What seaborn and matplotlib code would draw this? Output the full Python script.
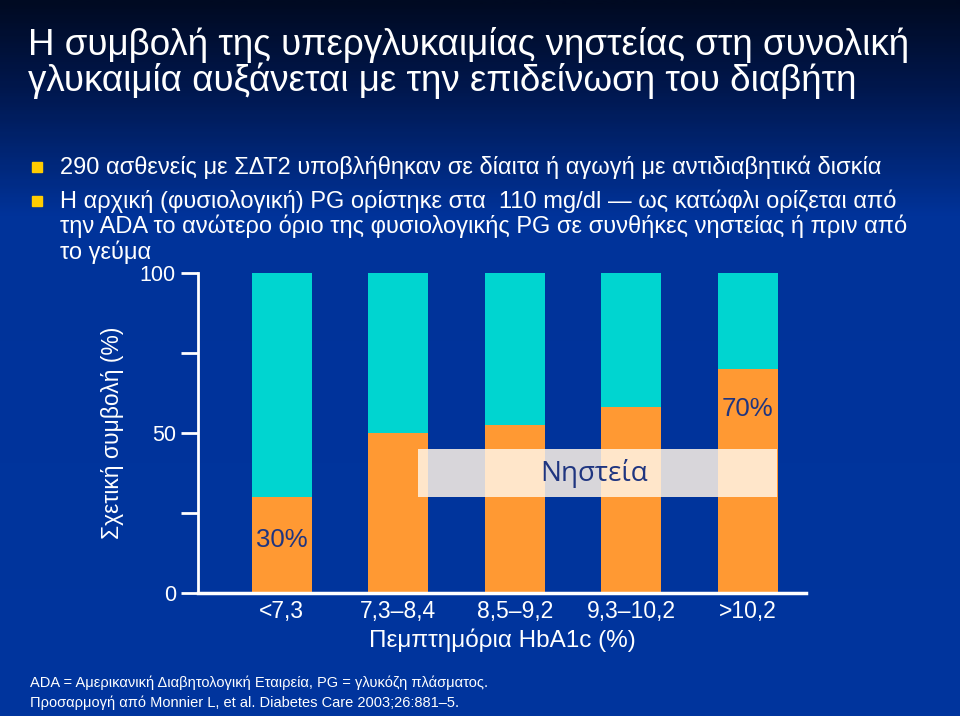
import numpy as np
import pandas as pd
import matplotlib
matplotlib.use("Agg")
import matplotlib.pyplot as plt
import seaborn as sns
from matplotlib.colors import LinearSegmentedColormap

# data
quintiles = ["<7,3", "7,3–8,4", "8,5–9,2", "9,3–10,2", ">10,2"]
fasting = [30, 50, 52.5, 58, 70]
total = [100, 100, 100, 100, 100]
yticks = [0, 25, 50, 75, 100]
ytick_labels = ["0", "", "50", "", "100"]

title_lines = ["Η συμβολή της υπεργλυκαιμίας νηστείας στη συνολική",
               "γλυκαιμία αυξάνεται με την επιδείνωση του διαβήτη"]
bullet_lines = [
    ["290 ασθενείς με ΣΔΤ2 υποβλήθηκαν σε δίαιτα ή αγωγή με αντιδιαβητικά δισκία"],
    ["Η αρχική (φυσιολογική) PG ορίστηκε στα  110 mg/dl — ως κατώφλι ορίζεται από",
     "την ADA το ανώτερο όριο της φυσιολογικής PG σε συνθήκες νηστείας ή πριν από",
     "το γεύμα"],
]
footnotes = [
    "ADA = Αμερικανική Διαβητολογική Εταιρεία, PG = γλυκόζη πλάσματος.",
    "Προσαρμογή από Monnier L, et al. Diabetes Care 2003;26:881–5.",
]

ORANGE = "#FF9933"
CYAN = "#00D5D0"
TEXTBLUE = "#1f3580"

sns.set_theme(style="white")
plt.rcParams["font.family"] = ["Liberation Sans", "DejaVu Sans"]

W, H = 960, 716
fig = plt.figure(figsize=(W / 100, H / 100), dpi=100)

# slide background gradient
bg = fig.add_axes([0, 0, 1, 1])
grad = np.linspace(0, 1, 300).reshape(-1, 1)
cmap = LinearSegmentedColormap.from_list(
    "slide", [(0, "#000a22"), (0.12, "#00174d"), (0.3, "#00339a"), (1, "#00359e")])
bg.imshow(grad, aspect="auto", cmap=cmap, extent=[0, 1, 0, 1], origin="upper")
bg.set_xlim(0, 1)
bg.set_ylim(0, 1)
bg.axis("off")


def fy(py):
    return 1 - py / H


def fx(px):
    return px / W


# title
for i, line in enumerate(title_lines):
    fig.text(fx(28), fy(45 + i * 36), line, color="white", fontsize=26.5,
             va="center", ha="left")

# bullets
bullet_y = [167, 201]
for by, lines in zip(bullet_y, bullet_lines):
    fig.patches.append(plt.Rectangle((fx(32), fy(by + 5)), 10 / W, 10 / H,
                                     transform=fig.transFigure,
                                     color="#FFCC00", zorder=3))
    for j, line in enumerate(lines):
        fig.text(fx(60), fy(by + j * 25.5), line, color="white", fontsize=17,
                 va="center", ha="left")

# chart
left, right = 198, 806
top, bottom = 273, 593
ax = fig.add_axes([fx(left), fy(bottom), (right - left) / W, (bottom - top) / H])
ax.set_facecolor("none")

df = pd.DataFrame({"quintile": quintiles, "fasting": fasting, "total": total})
sns.barplot(data=df, x="quintile", y="total", color=CYAN, width=0.515,
            saturation=1, linewidth=0, ax=ax)
sns.barplot(data=df, x="quintile", y="fasting", color=ORANGE, width=0.515,
            saturation=1, linewidth=0, ax=ax)

ax.set_xlim(-0.72, 4.5)
ax.set_ylim(0, 100)
ax.set_yticks(yticks)
ax.set_yticklabels(ytick_labels)
ax.tick_params(axis="y", colors="white", length=12, width=2, labelsize=15.5,
               pad=4, left=True)
ax.tick_params(axis="x", colors="white", length=0, labelsize=16.5, pad=5)
for lab in ax.get_yticklabels() + ax.get_xticklabels():
    lab.set_color("white")
for s in ["top", "right"]:
    ax.spines[s].set_visible(False)
ax.spines["left"].set_color("white")
ax.spines["left"].set_linewidth(2)
ax.spines["bottom"].set_color("white")
ax.spines["bottom"].set_linewidth(2.5)
ax.set_xlabel("Πεμπτημόρια HbA1c (%)", color="white", fontsize=17.5, labelpad=4)
ax.set_ylabel("Σχετική συμβολή (%)", color="white", fontsize=16.5, labelpad=11)

# value labels
ax.text(0, fasting[0] - 13.5, f"{fasting[0]:.0f}%", color=TEXTBLUE, fontsize=18.5,
        ha="center", va="center")
ax.text(4, fasting[4] - 12.5, f"{fasting[4]:.0f}%", color=TEXTBLUE, fontsize=18.5,
        ha="center", va="center")

# label box for the orange series
ax.text(2.68, 37.5, "Νηστεία", color=TEXTBLUE, fontsize=20, ha="center",
        va="center", family=["Open Sans", "DejaVu Sans"], zorder=5)
ax.add_patch(plt.Rectangle((1.17, 30), 3.08, 15, facecolor="#fff4e6",
                           alpha=0.85, edgecolor="none", zorder=4))

# footnotes
for i, ft in enumerate(footnotes):
    fig.text(fx(30), fy(683 + i * 20), ft, color="white", fontsize=10.5,
             va="center", ha="left")

fig.savefig("out.png", dpi=100)
